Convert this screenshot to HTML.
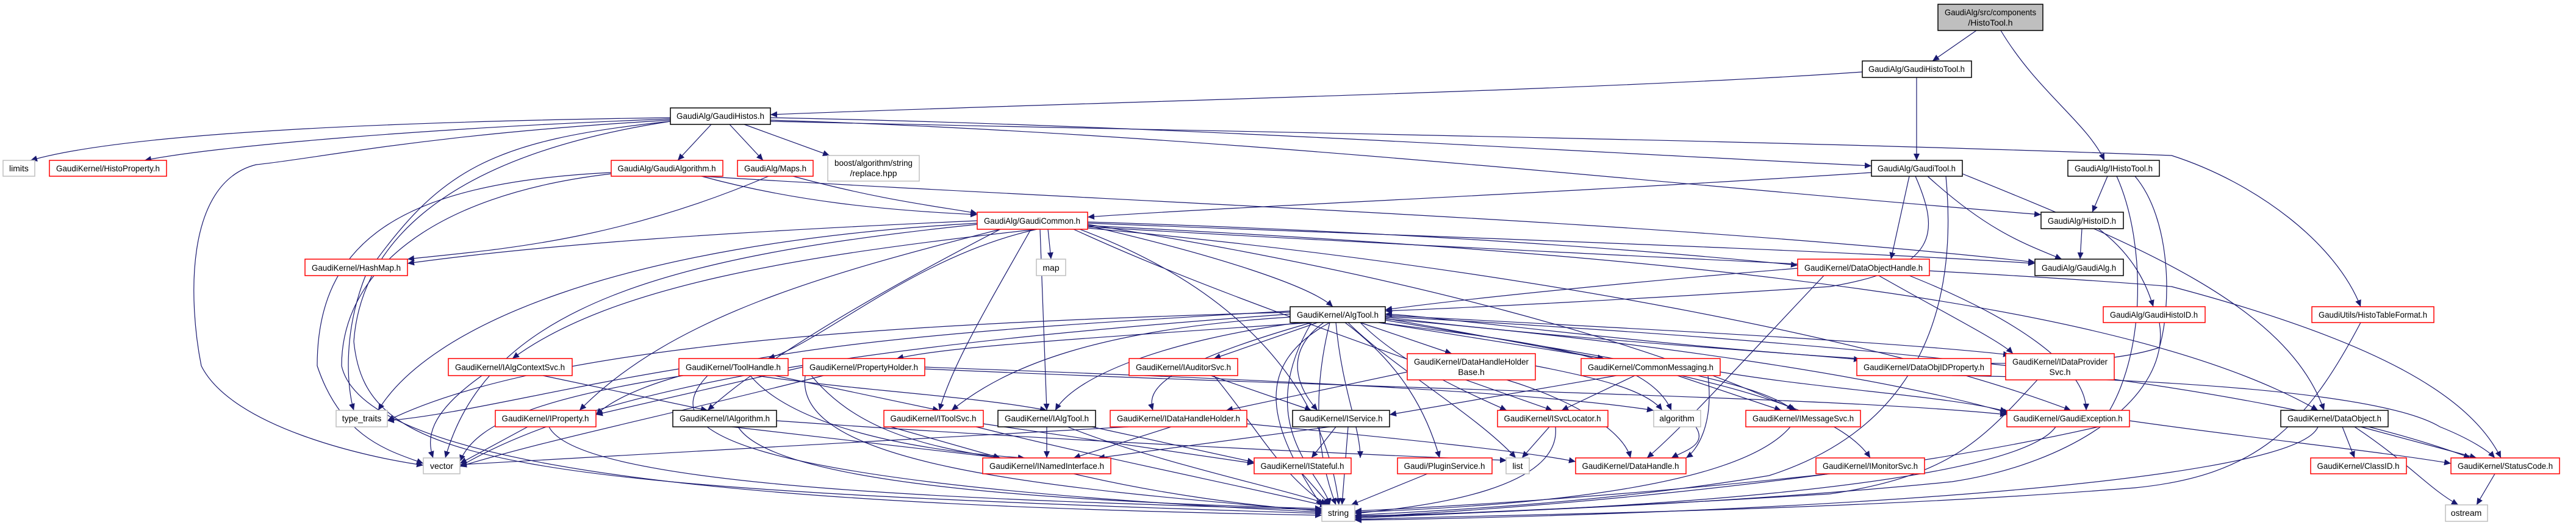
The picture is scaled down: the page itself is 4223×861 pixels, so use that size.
<!DOCTYPE html>
<html><head><meta charset="utf-8"><style>
html,body{margin:0;padding:0;background:#fff;}
svg{display:block;}
text{font-family:"Liberation Sans",sans-serif;font-size:14px;fill:#000;}
.e{fill:none;stroke:#191970;stroke-width:1.2;marker-end:url(#a);}
.r{fill:#fff;stroke:#ff0000;stroke-width:1.5;}
.b{fill:#fff;stroke:#000;stroke-width:1.5;}
.g{fill:#fff;stroke:#bfbfbf;stroke-width:1.5;}
</style></head><body>
<svg width="4223" height="861" viewBox="0 0 4223 861" xmlns="http://www.w3.org/2000/svg">
<defs><marker id="a" markerUnits="userSpaceOnUse" markerWidth="12" markerHeight="10" refX="11" refY="5" orient="auto"><path d="M0,0 L11,5 L0,10 z" fill="#191970"/></marker></defs>
<g>
<path class="e" d="M3240,50 L3168,100"/>
<path class="e" d="M3280,50 C3340,150 3420,200 3450,263"/>
<path class="e" d="M3053,118 C2600,150 1700,170 1263,188"/>
<path class="e" d="M3142,127 L3142,263"/>
<path class="e" d="M1099,193 C600,200 200,220 50,263"/>
<path class="e" d="M1099,195 C700,210 350,240 237,263"/>
<path class="e" d="M1166,204 L1111,263"/>
<path class="e" d="M1196,204 L1251,263"/>
<path class="e" d="M1220,204 L1360,255"/>
<path class="e" d="M1263,193 C1900,205 2600,250 3068,272"/>
<path class="e" d="M1263,197 C2000,220 2700,300 3346,352"/>
<path class="e" d="M1263,199 C2200,220 2900,230 3560,255 C3700,300 3830,400 3870,503"/>
<path class="e" d="M1099,197 C700,220 520,260 420,270 C300,300 310,500 330,600 C380,700 600,750 694,763"/>
<path class="e" d="M1099,199 C800,230 720,280 600,450 C560,550 570,640 580,673"/>
<path class="e" d="M1099,199 C700,260 590,420 580,560 C600,760 800,800 2167,842"/>
<path class="e" d="M1002,283 C650,300 520,400 520,600 C560,720 640,740 694,760"/>
<path class="e" d="M1002,285 C700,320 560,450 560,600 C600,780 1300,830 2167,845"/>
<path class="e" d="M1150,289 C1300,330 1450,345 1602,352"/>
<path class="e" d="M1150,289 C1800,330 2700,360 3336,430"/>
<path class="e" d="M1260,289 C1000,400 800,410 668,425"/>
<path class="e" d="M1300,289 C1450,330 1550,340 1602,350"/>
<path class="e" d="M3068,283 C2500,320 2000,340 1783,356"/>
<path class="e" d="M3130,289 L3100,425"/>
<path class="e" d="M3160,289 C3260,380 3320,400 3380,425"/>
<path class="e" d="M3140,289 C3180,380 3180,440 3000,470 C2700,490 2400,505 2271,510"/>
<path class="e" d="M3217,285 C3500,400 3750,500 3810,673"/>
<path class="e" d="M3190,289 C3210,500 3150,700 2900,780 C2600,830 2300,840 2221,845"/>
<path class="e" d="M3455,289 L3430,348"/>
<path class="e" d="M3470,289 C3520,400 3520,600 3440,700 C3000,800 2400,840 2221,848"/>
<path class="e" d="M3500,289 C3560,360 3560,500 3540,570 C3300,650 2400,520 2271,515"/>
<path class="e" d="M3413,375 L3410,425"/>
<path class="e" d="M3440,375 C3500,420 3520,470 3530,503"/>
<path class="e" d="M3540,529 C3560,650 3400,760 3200,790 C2800,830 2400,840 2221,850"/>
<path class="e" d="M3870,529 C3780,700 3700,780 3500,800 C3000,840 2400,845 2221,852"/>
<path class="e" d="M1602,362 C1200,380 900,400 668,432"/>
<path class="e" d="M1718,376 L1723,425"/>
<path class="e" d="M1783,364 C2300,380 2700,410 2947,435"/>
<path class="e" d="M1783,366 C2400,390 3000,410 3336,432"/>
<path class="e" d="M1783,370 C2000,420 2150,470 2185,503"/>
<path class="e" d="M1700,376 C1300,420 1000,470 840,588"/>
<path class="e" d="M1690,376 C1620,500 1560,600 1540,673"/>
<path class="e" d="M1705,376 L1716,673"/>
<path class="e" d="M1640,376 C1350,450 1100,520 950,673"/>
<path class="e" d="M1602,368 C1100,420 800,500 730,751"/>
<path class="e" d="M1602,366 C1000,400 700,540 620,673"/>
<path class="e" d="M1770,376 C2100,500 2180,700 2195,828"/>
<path class="e" d="M1783,372 C2600,420 3200,440 3560,470 C3900,560 4050,650 4100,751"/>
<path class="e" d="M1783,374 C2500,440 3100,560 3395,673"/>
<path class="e" d="M1783,368 C2300,450 2700,560 2945,673"/>
<path class="e" d="M1783,370 C2800,420 3500,500 3800,673"/>
<path class="e" d="M1760,376 C1900,440 2050,500 2545,673"/>
<path class="e" d="M1700,376 C1500,420 1350,560 1259,588"/>
<path class="e" d="M1640,376 C1400,500 1240,600 1160,673"/>
<path class="e" d="M2947,440 C2700,460 2400,490 2271,508"/>
<path class="e" d="M3080,452 C3200,520 3280,560 3300,580"/>
<path class="e" d="M3130,452 C3300,520 3420,600 3420,673"/>
<path class="e" d="M2990,452 C2850,600 2760,700 2700,751"/>
<path class="e" d="M2150,529 C1700,560 1550,570 1470,588"/>
<path class="e" d="M2160,529 L1990,588"/>
<path class="e" d="M2230,529 L2380,580"/>
<path class="e" d="M2260,529 L2630,588"/>
<path class="e" d="M2271,520 C2600,560 2900,575 3050,590"/>
<path class="e" d="M2271,517 C2700,540 3100,560 3295,582"/>
<path class="e" d="M2115,520 C1800,540 1650,600 1560,673"/>
<path class="e" d="M2130,529 C1900,560 1760,620 1730,673"/>
<path class="e" d="M2150,529 C1900,600 1880,640 1890,673"/>
<path class="e" d="M2170,529 C2100,580 2130,640 2160,673"/>
<path class="e" d="M2230,529 C2300,600 2420,650 2470,673"/>
<path class="e" d="M2260,529 C2500,560 2700,580 2740,673"/>
<path class="e" d="M2271,525 C2600,580 2880,620 2940,673"/>
<path class="e" d="M2271,523 C2700,560 3100,620 3295,678"/>
<path class="e" d="M2271,522 C2700,600 3000,650 3066,751"/>
<path class="e" d="M2210,529 C2280,600 2420,680 2485,751"/>
<path class="e" d="M2180,529 C2150,650 2160,750 2190,828"/>
<path class="e" d="M2205,529 C2300,600 2340,680 2360,751"/>
<path class="e" d="M2190,529 C2200,640 2230,700 2230,751"/>
<path class="e" d="M2271,519 C3000,560 3700,620 4050,751"/>
<path class="e" d="M2115,515 C1500,560 1000,620 754,765"/>
<path class="e" d="M2115,512 C1500,530 900,560 635,690"/>
<path class="e" d="M2115,510 C1600,540 1100,570 977,680"/>
<path class="e" d="M1113,605 C900,640 750,680 635,690"/>
<path class="e" d="M1120,616 C900,650 780,690 754,757"/>
<path class="e" d="M1240,616 C1400,640 1600,650 1716,673"/>
<path class="e" d="M1270,616 L1540,673"/>
<path class="e" d="M1230,616 C1300,700 1500,740 1680,751"/>
<path class="e" d="M1160,616 C1080,700 1150,790 2167,840"/>
<path class="e" d="M1316,602 L977,680"/>
<path class="e" d="M1350,616 C1100,680 900,720 754,765"/>
<path class="e" d="M1330,616 C1400,700 1500,730 1640,751"/>
<path class="e" d="M1320,616 C1300,760 1700,800 2167,838"/>
<path class="e" d="M1516,605 C2300,640 3000,650 3290,680"/>
<path class="e" d="M1516,602 C2000,620 2500,640 2711,673"/>
<path class="e" d="M790,616 C700,680 700,720 710,751"/>
<path class="e" d="M890,616 L1160,673"/>
<path class="e" d="M1985,616 L2150,673"/>
<path class="e" d="M1990,616 C2060,700 2100,780 2175,828"/>
<path class="e" d="M2307,610 L2010,673"/>
<path class="e" d="M2470,623 C2560,650 2660,700 2673,751"/>
<path class="e" d="M2517,600 C2620,620 2700,640 2725,673"/>
<path class="e" d="M2650,616 L2278,680"/>
<path class="e" d="M2680,616 L2560,673"/>
<path class="e" d="M2750,616 L2920,673"/>
<path class="e" d="M2820,610 C3000,640 3200,650 3290,675"/>
<path class="e" d="M2800,616 C2810,700 2780,740 2764,751"/>
<path class="e" d="M3200,616 C3500,620 3900,640 4000,700 C4050,720 4080,740 4090,751"/>
<path class="e" d="M3340,623 C3250,720 3200,780 3000,810 C2600,835 2300,845 2221,848"/>
<path class="e" d="M865,700 L754,760"/>
<path class="e" d="M900,700 C950,800 1600,820 2167,836"/>
<path class="e" d="M1200,700 L1640,751"/>
<path class="e" d="M1210,700 C1260,780 1600,820 2167,834"/>
<path class="e" d="M1273,690 C1700,720 2100,740 2470,755"/>
<path class="e" d="M1460,700 L1640,751"/>
<path class="e" d="M1600,700 C1800,750 2050,800 2175,830"/>
<path class="e" d="M1612,695 L2056,760"/>
<path class="e" d="M1716,700 L1716,751"/>
<path class="e" d="M1750,700 C1900,760 2100,800 2180,828"/>
<path class="e" d="M1790,700 L2056,758"/>
<path class="e" d="M1920,700 L1760,751"/>
<path class="e" d="M1850,700 L754,762"/>
<path class="e" d="M2044,695 C2300,720 2500,740 2583,757"/>
<path class="e" d="M2180,700 L1800,751"/>
<path class="e" d="M2190,700 L2150,751"/>
<path class="e" d="M2210,700 L2200,828"/>
<path class="e" d="M2540,700 L2495,751"/>
<path class="e" d="M2550,700 C2560,800 2350,830 2221,842"/>
<path class="e" d="M2780,700 C2800,730 2760,740 2740,751"/>
<path class="e" d="M2935,700 C2850,800 2500,830 2221,840"/>
<path class="e" d="M3370,700 C3300,800 2600,840 2221,846"/>
<path class="e" d="M3491,690 C3700,720 3900,740 4018,760"/>
<path class="e" d="M3800,700 C3760,800 2800,845 2221,853"/>
<path class="e" d="M3840,700 L3860,751"/>
<path class="e" d="M3870,700 L4060,751"/>
<path class="e" d="M3860,700 C3950,760 3980,800 4030,828"/>
<path class="e" d="M4090,777 L4060,828"/>
<path class="e" d="M3000,777 C2700,810 2400,830 2221,838"/>
<path class="e" d="M1760,777 C1900,810 2050,830 2167,838"/>
<path class="e" d="M2135,777 L2180,828"/>
<path class="e" d="M2340,777 L2215,828"/>
<path class="e" d="M2150,529 C2050,700 2170,780 2180,828"/>
<path class="e" d="M2180,529 C2050,600 2080,700 2167,830"/>
</g>
<g>
<rect x="3177" y="7" width="172" height="43" fill="#bfbfbf" stroke="#000" stroke-width="1.5"/>
<text x="3263" y="25" text-anchor="middle" textLength="150" lengthAdjust="spacingAndGlyphs">GaudiAlg/src/components</text>
<text x="3263" y="42" text-anchor="middle">/HistoTool.h</text>
<rect class="b" x="3053" y="100" width="179" height="27"/><text x="3142" y="118" text-anchor="middle" textLength="158" lengthAdjust="spacingAndGlyphs">GaudiAlg/GaudiHistoTool.h</text>
<rect class="b" x="1099" y="177" width="164" height="27"/><text x="1181" y="195" text-anchor="middle" textLength="144" lengthAdjust="spacingAndGlyphs">GaudiAlg/GaudiHistos.h</text>
<rect class="g" x="5" y="263" width="52" height="26"/><text x="31" y="281" text-anchor="middle">limits</text>
<rect class="r" x="81" y="263" width="192" height="26"/><text x="177" y="281" text-anchor="middle" textLength="170" lengthAdjust="spacingAndGlyphs">GaudiKernel/HistoProperty.h</text>
<rect class="r" x="1002" y="263" width="183" height="26"/><text x="1093" y="281" text-anchor="middle" textLength="161" lengthAdjust="spacingAndGlyphs">GaudiAlg/GaudiAlgorithm.h</text>
<rect class="r" x="1209" y="263" width="124" height="26"/><text x="1271" y="281" text-anchor="middle" textLength="102" lengthAdjust="spacingAndGlyphs">GaudiAlg/Maps.h</text>
<rect class="g" x="1357" y="255" width="150" height="42"/><text x="1432" y="272" text-anchor="middle" textLength="128" lengthAdjust="spacingAndGlyphs">boost/algorithm/string</text><text x="1432" y="289" text-anchor="middle">/replace.hpp</text>
<rect class="b" x="3068" y="263" width="149" height="26"/><text x="3142" y="281" text-anchor="middle" textLength="128" lengthAdjust="spacingAndGlyphs">GaudiAlg/GaudiTool.h</text>
<rect class="b" x="3390" y="263" width="150" height="26"/><text x="3465" y="281" text-anchor="middle" textLength="128" lengthAdjust="spacingAndGlyphs">GaudiAlg/IHistoTool.h</text>
<rect class="r" x="1602" y="348" width="181" height="28"/><text x="1692" y="367" text-anchor="middle" textLength="158" lengthAdjust="spacingAndGlyphs">GaudiAlg/GaudiCommon.h</text>
<rect class="b" x="3346" y="348" width="135" height="27"/><text x="3413" y="367" text-anchor="middle" textLength="112" lengthAdjust="spacingAndGlyphs">GaudiAlg/HistoID.h</text>
<rect class="r" x="500" y="425" width="168" height="27"/><text x="584" y="444" text-anchor="middle" textLength="146" lengthAdjust="spacingAndGlyphs">GaudiKernel/HashMap.h</text>
<rect class="g" x="1699" y="425" width="48" height="27"/><text x="1723" y="444" text-anchor="middle">map</text>
<rect class="r" x="2947" y="425" width="216" height="27"/><text x="3055" y="444" text-anchor="middle" textLength="194" lengthAdjust="spacingAndGlyphs">GaudiKernel/DataObjectHandle.h</text>
<rect class="b" x="3336" y="425" width="145" height="27"/><text x="3408" y="444" text-anchor="middle" textLength="122" lengthAdjust="spacingAndGlyphs">GaudiAlg/GaudiAlg.h</text>
<rect class="r" x="3448" y="503" width="167" height="26"/><text x="3531" y="521" text-anchor="middle" textLength="144" lengthAdjust="spacingAndGlyphs">GaudiAlg/GaudiHistoID.h</text>
<rect class="r" x="3790" y="503" width="200" height="26"/><text x="3890" y="521" text-anchor="middle" textLength="178" lengthAdjust="spacingAndGlyphs">GaudiUtils/HistoTableFormat.h</text>
<rect class="b" x="2115" y="503" width="156" height="26"/><text x="2193" y="521" text-anchor="middle" textLength="134" lengthAdjust="spacingAndGlyphs">GaudiKernel/AlgTool.h</text>
<rect class="r" x="735" y="588" width="203" height="28"/><text x="836" y="607" text-anchor="middle" textLength="180" lengthAdjust="spacingAndGlyphs">GaudiKernel/IAlgContextSvc.h</text>
<rect class="r" x="1113" y="588" width="179" height="28"/><text x="1202" y="607" text-anchor="middle" textLength="156" lengthAdjust="spacingAndGlyphs">GaudiKernel/ToolHandle.h</text>
<rect class="r" x="1316" y="588" width="200" height="28"/><text x="1416" y="607" text-anchor="middle" textLength="178" lengthAdjust="spacingAndGlyphs">GaudiKernel/PropertyHolder.h</text>
<rect class="r" x="1851" y="588" width="178" height="28"/><text x="1940" y="607" text-anchor="middle" textLength="156" lengthAdjust="spacingAndGlyphs">GaudiKernel/IAuditorSvc.h</text>
<rect class="r" x="2307" y="580" width="210" height="43"/><text x="2412" y="598" text-anchor="middle" textLength="188" lengthAdjust="spacingAndGlyphs">GaudiKernel/DataHandleHolder</text><text x="2412" y="615" text-anchor="middle">Base.h</text>
<rect class="r" x="2592" y="588" width="228" height="28"/><text x="2706" y="607" text-anchor="middle" textLength="206" lengthAdjust="spacingAndGlyphs">GaudiKernel/CommonMessaging.h</text>
<rect class="r" x="3044" y="588" width="220" height="28"/><text x="3154" y="607" text-anchor="middle" textLength="198" lengthAdjust="spacingAndGlyphs">GaudiKernel/DataObjIDProperty.h</text>
<rect class="r" x="3288" y="580" width="178" height="43"/><text x="3377" y="598" text-anchor="middle" textLength="156" lengthAdjust="spacingAndGlyphs">GaudiKernel/IDataProvider</text><text x="3377" y="615" text-anchor="middle">Svc.h</text>
<rect class="g" x="551" y="673" width="84" height="27"/><text x="593" y="691" text-anchor="middle">type_traits</text>
<rect class="r" x="812" y="673" width="165" height="27"/><text x="894" y="691" text-anchor="middle" textLength="143" lengthAdjust="spacingAndGlyphs">GaudiKernel/IProperty.h</text>
<rect class="b" x="1103" y="673" width="170" height="27"/><text x="1188" y="691" text-anchor="middle" textLength="148" lengthAdjust="spacingAndGlyphs">GaudiKernel/IAlgorithm.h</text>
<rect class="r" x="1449" y="673" width="163" height="27"/><text x="1530" y="691" text-anchor="middle" textLength="141" lengthAdjust="spacingAndGlyphs">GaudiKernel/IToolSvc.h</text>
<rect class="b" x="1636" y="673" width="160" height="27"/><text x="1716" y="691" text-anchor="middle" textLength="138" lengthAdjust="spacingAndGlyphs">GaudiKernel/IAlgTool.h</text>
<rect class="r" x="1820" y="673" width="224" height="27"/><text x="1932" y="691" text-anchor="middle" textLength="202" lengthAdjust="spacingAndGlyphs">GaudiKernel/IDataHandleHolder.h</text>
<rect class="b" x="2119" y="673" width="159" height="27"/><text x="2198" y="691" text-anchor="middle" textLength="137" lengthAdjust="spacingAndGlyphs">GaudiKernel/IService.h</text>
<rect class="r" x="2455" y="673" width="181" height="27"/><text x="2545" y="691" text-anchor="middle" textLength="159" lengthAdjust="spacingAndGlyphs">GaudiKernel/ISvcLocator.h</text>
<rect class="g" x="2711" y="673" width="77" height="27"/><text x="2749" y="691" text-anchor="middle">algorithm</text>
<rect class="r" x="2862" y="673" width="188" height="27"/><text x="2956" y="691" text-anchor="middle" textLength="166" lengthAdjust="spacingAndGlyphs">GaudiKernel/IMessageSvc.h</text>
<rect class="r" x="3290" y="673" width="201" height="27"/><text x="3390" y="691" text-anchor="middle" textLength="179" lengthAdjust="spacingAndGlyphs">GaudiKernel/GaudiException.h</text>
<rect class="b" x="3739" y="673" width="176" height="27"/><text x="3827" y="691" text-anchor="middle" textLength="154" lengthAdjust="spacingAndGlyphs">GaudiKernel/DataObject.h</text>
<rect class="g" x="694" y="751" width="60" height="26"/><text x="724" y="769" text-anchor="middle">vector</text>
<rect class="r" x="1611" y="751" width="210" height="26"/><text x="1716" y="769" text-anchor="middle" textLength="188" lengthAdjust="spacingAndGlyphs">GaudiKernel/INamedInterface.h</text>
<rect class="r" x="2056" y="751" width="159" height="26"/><text x="2135" y="769" text-anchor="middle" textLength="137" lengthAdjust="spacingAndGlyphs">GaudiKernel/IStateful.h</text>
<rect class="r" x="2291" y="751" width="155" height="26"/><text x="2368" y="769" text-anchor="middle" textLength="133" lengthAdjust="spacingAndGlyphs">Gaudi/PluginService.h</text>
<rect class="g" x="2469" y="751" width="38" height="26"/><text x="2488" y="769" text-anchor="middle">list</text>
<rect class="r" x="2583" y="751" width="181" height="26"/><text x="2673" y="769" text-anchor="middle" textLength="159" lengthAdjust="spacingAndGlyphs">GaudiKernel/DataHandle.h</text>
<rect class="r" x="2977" y="751" width="178" height="26"/><text x="3066" y="769" text-anchor="middle" textLength="156" lengthAdjust="spacingAndGlyphs">GaudiKernel/IMonitorSvc.h</text>
<rect class="r" x="3788" y="751" width="157" height="26"/><text x="3866" y="769" text-anchor="middle" textLength="135" lengthAdjust="spacingAndGlyphs">GaudiKernel/ClassID.h</text>
<rect class="r" x="4018" y="751" width="178" height="26"/><text x="4107" y="769" text-anchor="middle" textLength="156" lengthAdjust="spacingAndGlyphs">GaudiKernel/StatusCode.h</text>
<rect class="g" x="2167" y="828" width="54" height="27"/><text x="2194" y="846" text-anchor="middle">string</text>
<rect class="g" x="4009" y="828" width="69" height="27"/><text x="4043" y="846" text-anchor="middle">ostream</text>
</g>
</svg>
</body></html>
